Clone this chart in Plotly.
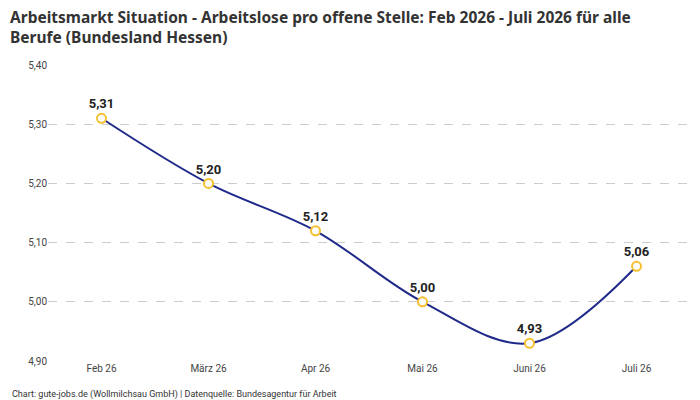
import plotly.graph_objects as go

months = ["Feb 26", "März 26", "Apr 26", "Mai 26", "Juni 26", "Juli 26"]
values = [5.31, 5.20, 5.12, 5.00, 4.93, 5.06]
y_ticks = [4.90, 5.00, 5.10, 5.20, 5.30, 5.40]

fig = go.Figure()
fig.add_trace(go.Scatter(
    x=months, y=values,
    mode="lines+markers+text",
    line=dict(color="#1f2a8a", width=2, shape="spline", smoothing=1.0),
    marker=dict(size=9, color="white", line=dict(color="#f5c030", width=2)),
    text=[f"<b>{v:.2f}</b>".replace(".", ",") for v in values],
    textposition="top center",
    textfont=dict(size=13, color="#222222", family="Roboto"),
    cliponaxis=False,
    showlegend=False,
))

# page body adds ~8px offset, so the figure is slightly smaller than the window
fig.update_layout(
    width=692, height=392,
    margin=dict(l=40, r=10, t=57, b=39),
    paper_bgcolor="white", plot_bgcolor="white",
    font=dict(family="Roboto", color="#333333"),
    xaxis=dict(range=[-0.5, len(months) - 0.5], showgrid=False, showline=False, ticks="",
               tickfont=dict(size=10, color="#444444")),
    yaxis=dict(
        range=[4.9, 5.4], tickvals=y_ticks,
        ticktext=[f"{v:.2f}".replace(".", ",") for v in y_ticks],
        gridcolor="#cccccc", griddash="dash", zeroline=False,
        tickfont=dict(size=10, color="#444444"),
    ),
    annotations=[
        dict(
            text="<b>Arbeitsmarkt Situation - Arbeitslose pro offene Stelle: Feb 2026 - Juli 2026 für alle<br>Berufe (Bundesland Hessen)</b>",
            xref="paper", yref="paper", x=-0.062, y=1.205, xanchor="left", yanchor="top",
            align="left", showarrow=False, font=dict(size=15.5, color="#333333", family="Noto Sans"),
        ),
        dict(
            text="Chart: gute-jobs.de (Wollmilchsau GmbH) | Datenquelle: Bundesagentur für Arbeit",
            xref="paper", yref="paper", x=-0.059, y=-0.088, xanchor="left", yanchor="top",
            showarrow=False, font=dict(size=9, color="#333333"),
        ),
    ],
)

fig.write_html("out.html")
